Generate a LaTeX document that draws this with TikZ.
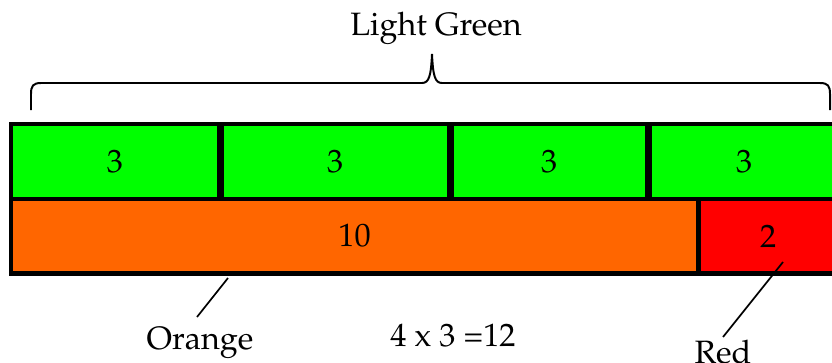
\documentclass[tikz,border=0pt]{standalone}
\usepackage[T1]{fontenc}
\usepackage{mathpazo}
\usetikzlibrary{positioning}
\definecolor{lgreen}{HTML}{00FF00}
\definecolor{orng}{HTML}{FF6600}
\definecolor{rd}{HTML}{FF0000}
\tikzset{
  cell/.style={draw, line width=3.5pt, outer sep=0pt, inner sep=0pt, minimum height=1.875cm},
  lbl/.style={font=\fontsize{23}{27}\selectfont}
}

\begin{document}
\begin{tikzpicture}[x=0.025cm, y=-0.025cm, every node/.style={lbl}]
\useasboundingbox (0,0) rectangle (832,362);
% top row
\node[cell, minimum width=5.2cm, fill=lgreen, anchor=north west] (G1) at (11,124) {3};
\node[cell, minimum width=5.7cm, fill=lgreen, right=0.05cm of G1] (G2) {3};
\node[cell, minimum width=4.9cm, fill=lgreen, right=0.05cm of G2] (G3) {3};
\node[cell, minimum width=4.75cm, fill=lgreen, right=0.05cm of G3] (G4) {3};
% bottom row
\node[cell, minimum width=17.175cm, minimum height=1.85cm, fill=orng, anchor=north west] (O) at (G1.south west) {10};
\node[cell, minimum width=3.5cm, minimum height=1.85cm, fill=rd, right=0pt of O] (R) {2};
% brace
\draw[line width=1.4pt] (31,110) -- (31,94) .. controls (31,86) and (33,83) .. (41,83)
  -- (422,83) .. controls (429,83) and (431,76) .. (432,54)
  .. controls (433,76) and (435,83) .. (442,83) -- (820,83)
  .. controls (828,83) and (830,86) .. (830,94) -- (830,110);
\node (LG) at (436,28) {Light Green};
% labels
\node (Olab) at (200,343) {Orange};
\node (Rlab) at (723,352) {Red};
\node (prod) at (453,336) {4 x 3 =12};
\coordinate (oTip) at (228,278);
\coordinate (oFoot) at (197,317);
\coordinate (rTip) at (783,262);
\coordinate (rFoot) at (723,337);
\draw[line width=1.2pt] (oTip) -- (oFoot);
\draw[line width=1.2pt] (rTip) -- (rFoot);
\end{tikzpicture}
\end{document}
